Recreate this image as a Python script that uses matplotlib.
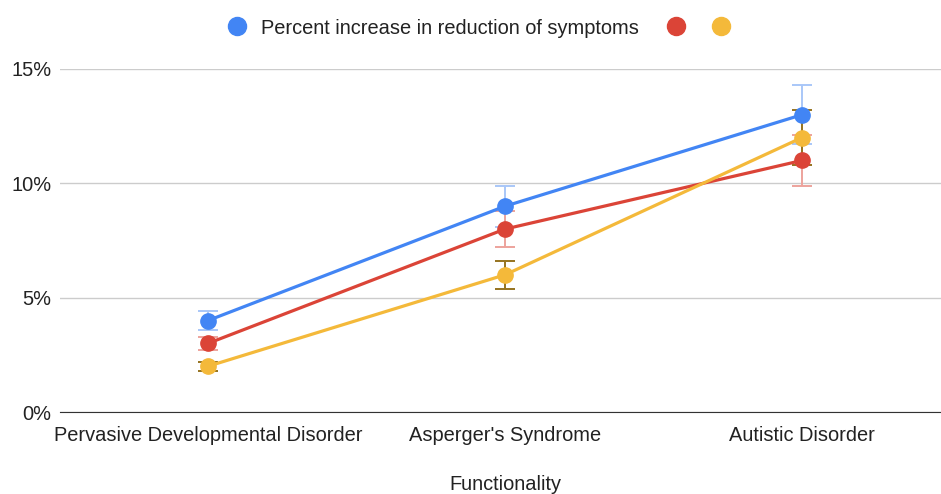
import matplotlib.pyplot as plt
import numpy as np
from matplotlib.lines import Line2D

categories = ["Pervasive Developmental Disorder", "Asperger's Syndrome", "Autistic Disorder"]
blue_vals = np.array([4, 9, 13])
red_vals = np.array([3, 8, 11])
yellow_vals = np.array([2, 6, 12])
series_label = "Percent increase in reduction of symptoms"

plt.rcParams['font.family'] = ['Liberation Sans', 'DejaVu Sans']

fig = plt.figure(figsize=(9.41, 4.94), dpi=100)
ax = fig.add_axes([59.5 / 941, 82 / 494, 891 / 941, 343 / 494])

x = np.arange(len(categories))
series = [
    (blue_vals, "#4285F4", "#A9C7F8"),
    (red_vals, "#DB4437", "#EDA39C"),
    (yellow_vals, "#F4B93A", "#96731F"),
]

for vals, col, ecol in series:
    # google-style 10% error bars
    ax.errorbar(x, vals, yerr=vals * 0.1, fmt="none", ecolor=ecol,
                elinewidth=1.4, capsize=7, capthick=1.4, zorder=2, clip_on=False)
for vals, col, ecol in series:
    ax.plot(x, vals, color=col, lw=2.3, marker="o", markersize=11,
            zorder=3, clip_on=False)

fs = 14.4
ax.set_xlim(-0.5, 2.5)
ax.set_ylim(0, 15)
ax.set_yticks([0, 5, 10, 15])
ax.set_yticklabels(["0%", "5%", "10%", "15%"])
ax.set_xticks(x)
ax.set_xticklabels(categories)
ax.grid(axis="y", color="#CCCCCC", lw=1)
ax.set_axisbelow(True)
for s in ["top", "right", "left"]:
    ax.spines[s].set_visible(False)
ax.spines["bottom"].set_color("#333333")
ax.tick_params(axis="both", length=0, labelsize=fs, colors="#222222")
ax.tick_params(axis="x", pad=10)
ax.tick_params(axis="y", pad=6)
ax.set_xlabel("Functionality", fontsize=fs, color="#222222", labelpad=22)

handles = [Line2D([], [], color=c, marker="o", ls="none", markersize=13)
           for _, c, _ in series]
# first entry has the label, the other two are bare dots
leg1 = fig.legend(handles[:1], [series_label], loc="center",
                  bbox_to_anchor=(431.5 / 941, 1 - 28 / 494), frameon=False,
                  fontsize=fs, handletextpad=0.6, handlelength=1.2,
                  labelcolor="#222222")
fig.legend(handles[1:], ["", ""], loc="center", ncol=2,
           bbox_to_anchor=(698.5 / 941, 1 - 28 / 494), frameon=False,
           fontsize=fs, handletextpad=0, columnspacing=1.05,
           handlelength=1.2)

fig.savefig("out.png", dpi=100)
